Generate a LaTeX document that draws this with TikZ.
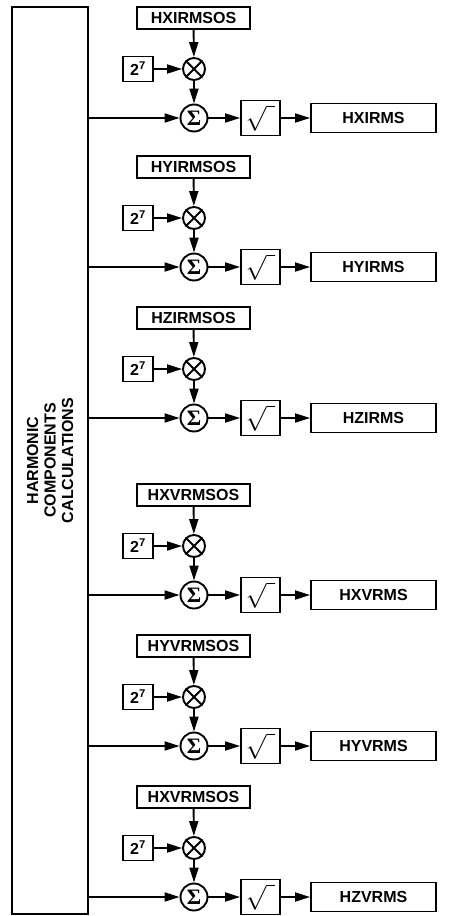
\documentclass[tikz,border=0pt]{standalone}
\usepackage{fontspec}
\setmainfont{Liberation Sans}
\newfontfamily\sigmafont{Liberation Serif}
\usetikzlibrary{arrows.meta}

\begin{document}
\begin{tikzpicture}[x=1pt, y=-1pt, line width=1.9pt,
  every node/.style={font=\fontsize{16}{17.5}\selectfont\bfseries},
  box/.style={draw, inner sep=0pt, minimum height=22pt},
  mulop/.style={draw, circle, inner sep=0pt, minimum size=22pt},
  sumop/.style={draw, circle, inner sep=0pt, minimum size=27pt},
  arr/.style={-{Triangle[length=15pt,width=9pt]}}]
  \useasboundingbox (0,0) rectangle (449,916);
  \node[draw, inner sep=0pt, minimum width=76pt, minimum height=907pt] (calc) at (50,460.5) {};
  \node[rotate=90, align=center] (calctext) at (calc.center) {HARMONIC\\COMPONENTS\\CALCULATIONS};
  \foreach \y/\i/\a/\b in {118/1/HXIRMSOS/HXIRMS, 267/2/HYIRMSOS/HYIRMS, 418/3/HZIRMSOS/HZIRMS,
                           595/4/HXVRMSOS/HXVRMS, 746/5/HYVRMSOS/HYVRMS, 897/6/HXVRMSOS/HZVRMS} {
    \node[sumop] (sum\i) at (194,\y) {\sigmafont\fontsize{22}{22}\selectfont Σ};
    \node[mulop] (mul\i) at (194,\y-49) {};
    \draw (mul\i.north west) -- (mul\i.south east) (mul\i.north east) -- (mul\i.south west);
    \node[box, minimum width=113pt] (os\i) at (193.5,\y-100) {\a};
    \node[box, minimum width=30pt, minimum height=25pt] (two\i) at (138,\y-49) {2\textsuperscript{7}};
    \node[box, minimum width=39pt, minimum height=35pt] (sq\i) at (260.5,\y)
      {\fontsize{26}{26}\selectfont$\sqrt{\vphantom{x}\hphantom{i}}$};
    \node[box, minimum width=125pt, minimum height=29pt] (rms\i) at (373.5,\y) {\b};
    \draw[arr] (os\i) -- (mul\i);
    \draw[arr] (two\i) -- (mul\i);
    \draw[arr] (mul\i) -- (sum\i);
    \draw[arr] (calc.east |- sum\i) -- (sum\i);
    \draw[arr] (sum\i) -- (sq\i);
    \draw[arr] (sq\i) -- (rms\i);
  }
\end{tikzpicture}
\end{document}
